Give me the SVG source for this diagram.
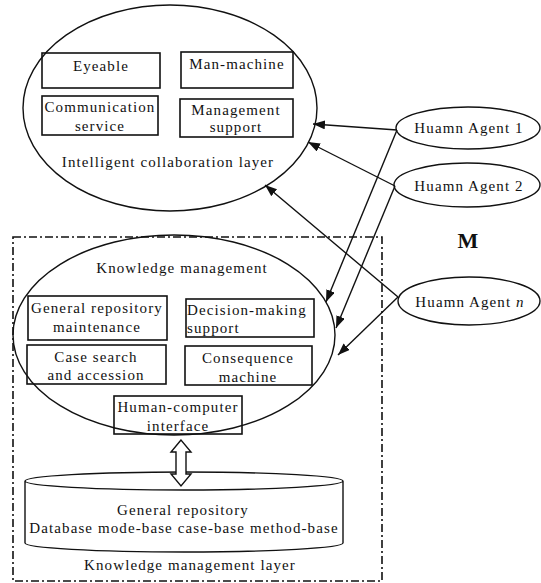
<svg xmlns="http://www.w3.org/2000/svg" width="541" height="583" viewBox="0 0 541 583">
<defs>
<style>
text{font-family:"Liberation Serif","Times New Roman",serif;font-size:15px;fill:#111;letter-spacing:1.1px}
.c{text-anchor:middle}
.l{text-anchor:start}
.sh{fill:none;stroke:#111;stroke-width:1.4}
.bx{fill:none;stroke:#111;stroke-width:1.6}
.cn{fill:none;stroke:#111;stroke-width:1.4;marker-end:url(#ah)}
.frame{fill:none;stroke:#111;stroke-width:1.6;stroke-dasharray:8 3 2 3}
</style>
<marker id="ah" markerUnits="userSpaceOnUse" markerWidth="13" markerHeight="10" refX="12" refY="4.5" orient="auto">
<path d="M0,0 L12,4.5 L0,9 Z" fill="#111"/>
</marker>
</defs>
<rect width="541" height="583" fill="#fff"/>

<g id="layer-collab">
<ellipse class="sh" cx="170" cy="108" rx="147" ry="103"/>
<text class="c" x="168" y="167">Intelligent collaboration layer</text>
</g>
<g id="eyeable"><rect class="bx" x="42" y="53" width="118" height="35"/><text class="c" x="101" y="71">Eyeable</text></g>
<g id="man-machine"><rect class="bx" x="181" y="52" width="112" height="36"/><text class="c" x="237" y="69">Man-machine</text></g>
<g id="communication"><rect class="bx" x="42" y="96" width="116" height="39"/><text class="c" x="100" y="112">Communication</text><text class="c" x="100" y="131">service</text></g>
<g id="management-support"><rect class="bx" x="180" y="99" width="113" height="38"/><text class="c" x="236" y="115">Management</text><text class="c" x="236" y="132">support</text></g>

<g id="agent1"><ellipse class="sh" cx="468" cy="128" rx="72" ry="21"/><text class="c" x="469" y="133">Huamn Agent 1</text></g>
<g id="agent2"><ellipse class="sh" cx="467" cy="185" rx="73" ry="22"/><text class="c" x="469" y="191">Huamn Agent 2</text></g>
<text x="468" y="248" style="font-size:22px;font-weight:bold;letter-spacing:0" class="c">M</text>
<g id="agentn"><ellipse class="sh" cx="469" cy="301" rx="71" ry="24"/><text class="c" x="470" y="307">Huamn Agent <tspan font-style="italic">n</tspan></text></g>

<g id="km-layer">
<rect class="frame" x="13" y="237" width="369" height="344"/>
<text class="c" x="190" y="570">Knowledge management layer</text>
</g>
<g id="knowledge-management">
<ellipse class="sh" cx="174" cy="335" rx="161" ry="100"/>
<text class="c" x="182" y="273">Knowledge management</text>
</g>
<g id="gr-maintenance"><rect class="bx" x="28" y="296" width="139" height="44"/><text class="c" x="97" y="313">General repository</text><text class="c" x="97" y="332">maintenance</text></g>
<g id="decision-support"><rect class="bx" x="186" y="299" width="128" height="38"/><text class="l" x="187" y="315">Decision-making</text><text class="l" x="187" y="333">support</text></g>
<g id="case-search"><rect class="bx" x="27" y="345" width="139" height="39"/><text class="c" x="96" y="362">Case search</text><text class="c" x="96" y="380">and accession</text></g>
<g id="consequence"><rect class="bx" x="185" y="346" width="127" height="39"/><text class="c" x="248" y="363">Consequence</text><text class="c" x="248" y="382">machine</text></g>
<g id="hci"><rect class="bx" x="114" y="396" width="128" height="38"/><text class="c" x="178" y="412">Human-computer</text><text class="c" x="178" y="431">interface</text></g>

<g id="general-repository">
<path class="sh" d="M25,481 A159,9 0 0 1 343,481 A159,9 0 0 1 25,481 Z M25,481 L25,543 A159,9 0 0 0 343,543 L343,481" fill="#fff"/>
<text class="c" x="183" y="515">General repository</text>
<text class="c" x="184" y="533">Database mode-base case-base method-base</text>
</g>

<g id="connectors">
<path d="M181,440 L171,452 L176,452 L176,474 L171,474 L181,486 L191,474 L186,474 L186,452 L191,452 Z" fill="#fff" stroke="#111" stroke-width="1.4"/>
<line class="cn" x1="397" y1="130" x2="313" y2="124"/>
<line class="cn" x1="397" y1="130" x2="326" y2="302"/>
<line class="cn" x1="395" y1="186" x2="308" y2="142"/>
<line class="cn" x1="395" y1="186" x2="336" y2="328"/>
<line class="cn" x1="398" y1="297" x2="265" y2="185"/>
<line class="cn" x1="398" y1="297" x2="338" y2="355"/>
</g>
</svg>
